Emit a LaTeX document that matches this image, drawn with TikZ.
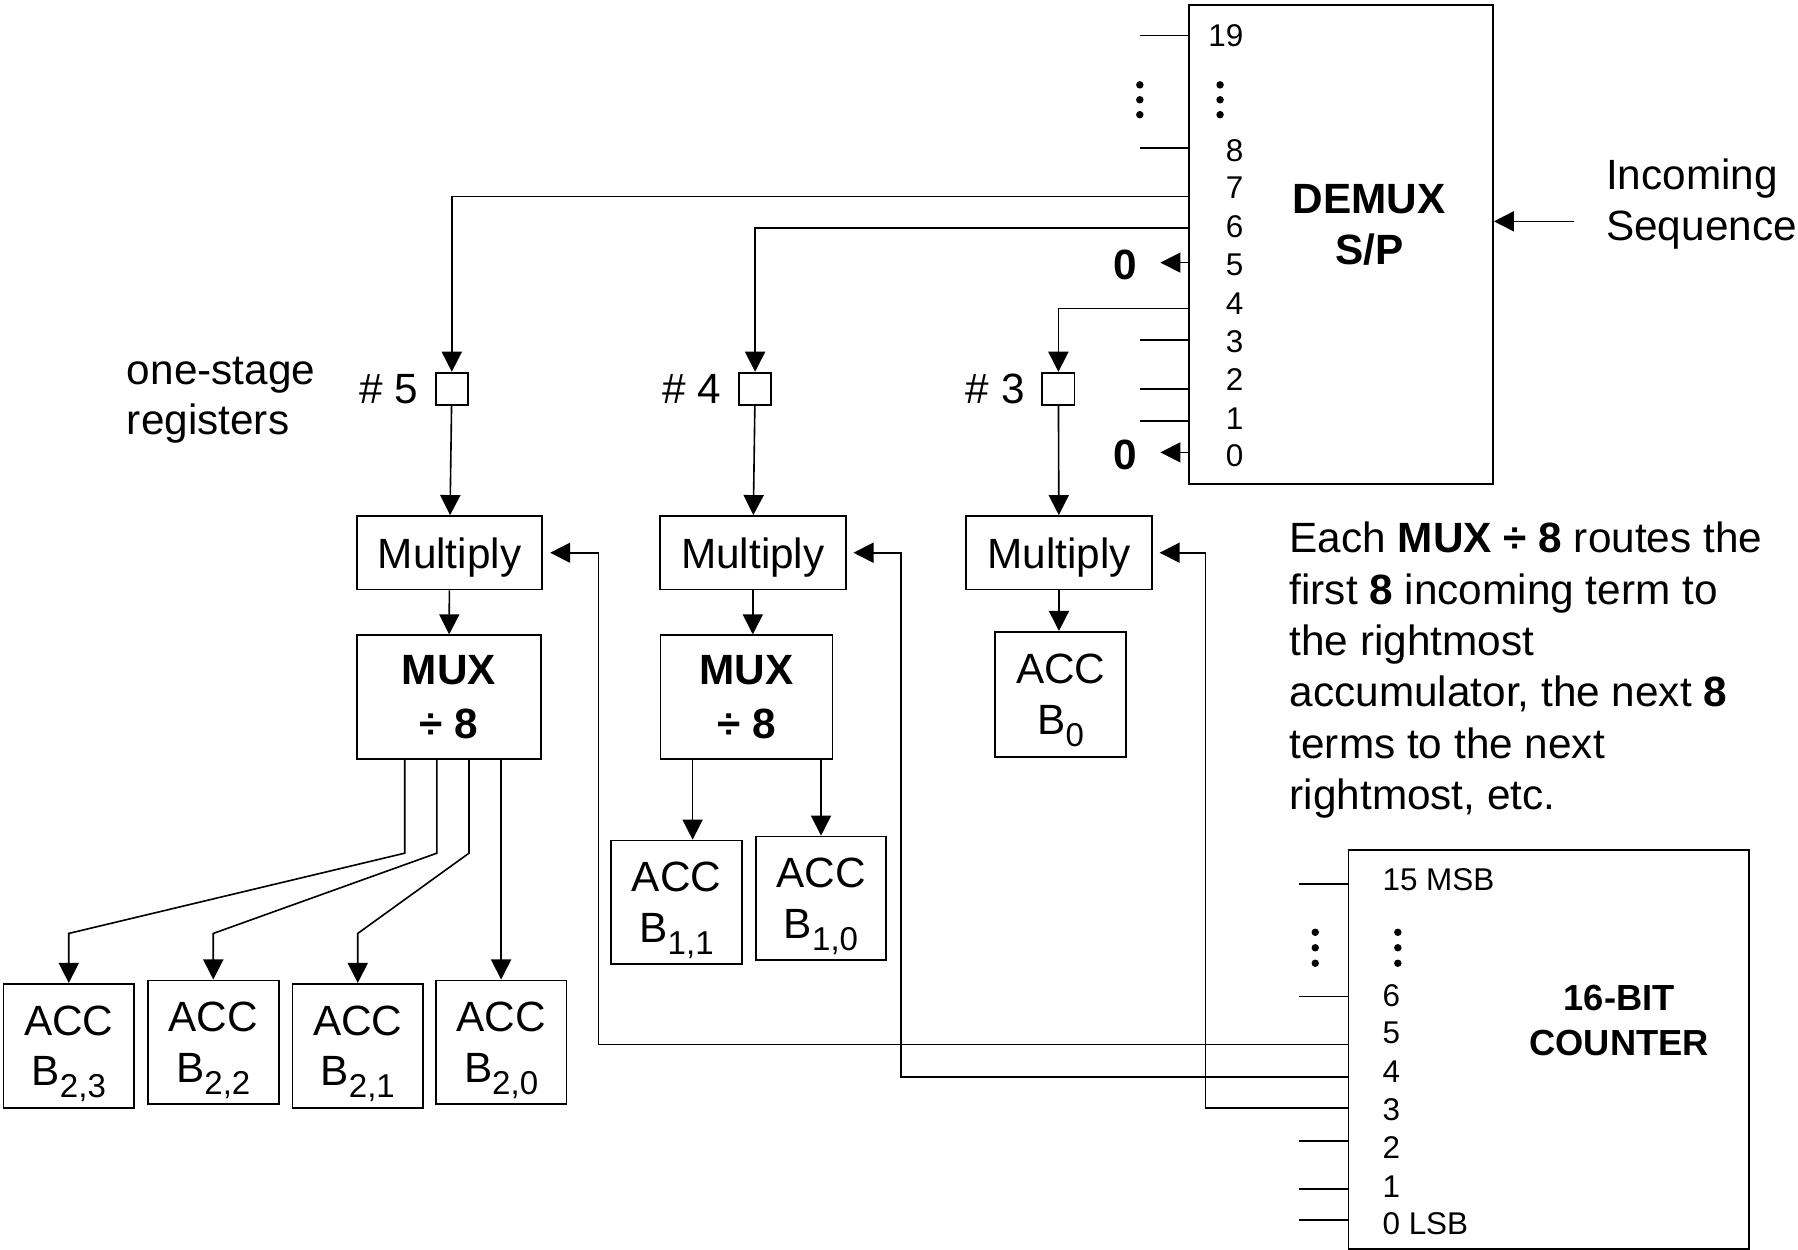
\documentclass[tikz,border=0pt]{standalone}
\usepackage{fontspec}
\setmainfont{Liberation Sans}
\usepackage{tikz}
\usetikzlibrary{arrows.meta,positioning,calc}
\newcommand{\idx}[1]{\raisebox{-2.9pt}[0pt][0pt]{\fontsize{8.2}{9}\selectfont #1}}

\begin{document}
\begin{tikzpicture}[x=1cm,y=1cm,
  >={Triangle[length=1.75mm,width=1.75mm]},
  every node/.style={font=\fontsize{10.5}{12.6}\selectfont},
  blk/.style={draw,line width=0.45pt,inner sep=0pt,align=center},
  mult/.style={blk,minimum width=1.62cm,minimum height=0.64cm,text depth=0pt},
  mux/.style={blk,minimum height=1.08cm,font=\fontsize{10.5}{13.2}\selectfont\bfseries},
  acc/.style={blk,minimum width=1.14cm,minimum height=1.08cm},
  reg/.style={draw,line width=0.45pt,minimum size=0.28cm,inner sep=0pt},
  lbl/.style={inner sep=0pt},
  pin/.style={font=\fontsize{7.8}{9}\selectfont,inner sep=0pt},
  bigb/.style={font=\fontsize{10.5}{12.8}\selectfont\bfseries,inner sep=0pt},
  ctrb/.style={font=\fontsize{9}{11.3}\selectfont\bfseries,inner sep=0pt},
  dot/.style={circle,fill,inner sep=0pt,minimum size=0.065cm}]
\useasboundingbox (0,0) rectangle (15.68,-10.90);

\node[blk,minimum width=2.65cm,minimum height=4.18cm] (demux) at (11.695,-2.13) {};
\node[bigb,align=center] (demuxtxt) at (11.94,-1.96) {DEMUX\\S/P};
\foreach \n/\y in {19/0.31,8/1.31,7/1.64,6/1.98,5/2.31,4/2.65,3/2.98,2/3.31,1/3.65,0/3.97}
  \node[pin,anchor=east] (d\n) at (10.85,-\y) {\n};
\foreach \y in {0.31,1.29,2.965,3.39,3.67}
  \draw (demux.west |- 0,-\y) -- ++(-0.42,0);
\foreach \y in {0.74,0.87,1.00} {
  \node[dot] at (9.94,-\y) {};
  \node[dot] at (10.64,-\y) {};
}
\node[bigb] (z5) at (9.81,-2.31) {0};
\node[bigb] (z0) at (9.81,-3.97) {0};
\draw[->,shorten >=0.2cm] (demux.west |- 0,-2.29) -- (z5.east |- 0,-2.29);
\draw[->,shorten >=0.2cm] (demux.west |- 0,-3.945) -- (z0.east |- 0,-3.945);

\node[lbl,anchor=west,align=left] (inc) at (14.00,-1.78) {Incoming\\Sequence};
\coordinate (src) at (13.73,-1.93);
\draw[->] (src) -- (src -| demux.east);

\node[lbl,anchor=west,align=left] (onestage) at (1.10,-3.49) {one-stage\\registers};
\node[reg] (r5) at (3.94,-3.39) {};
\node[reg] (r4) at (6.585,-3.39) {};
\node[reg] (r3) at (9.23,-3.39) {};
\node[lbl,left=0.14cm of r5] (l5) {\# 5};
\node[lbl,left=0.14cm of r4] (l4) {\# 4};
\node[lbl,left=0.14cm of r3] (l3) {\# 3};
\draw[->] (demux.west |- 0,-1.715) -| (r5.north);
\draw[->] (demux.west |- 0,-1.99) -| (r4.north);
\draw[->] (demux.west |- 0,-2.69) -| (r3.north);

\node[mult] (m5) at (3.92,-4.82) {Multiply};
\node[mult] (m4) at (6.565,-4.82) {Multiply};
\node[mult] (m3) at (9.235,-4.82) {Multiply};
\draw[->] (r5) -- (m5);
\draw[->] (r4) -- (m4);
\draw[->] (r3) -- (m3);

\node[mux,minimum width=1.61cm] (mux5) at (3.915,-6.08) {MUX\\÷ 8};
\node[mux,minimum width=1.50cm] (mux4) at (6.51,-6.08) {MUX\\÷ 8};
\node[acc,minimum height=1.09cm] (b0) at (9.25,-6.055) {ACC\\B\idx{0}};
\draw[->] (m5) -- (mux5);
\draw[->] (m4) -- (m4 |- mux4.north);
\draw[->] (m3) -- (m3 |- b0.north);

\node[acc] (b11) at (5.90,-7.87) {ACC\\B\idx{1,1}};
\node[acc] (b10) at (7.16,-7.835) {ACC\\B\idx{1,0}};
\draw[->] (6.04,0 |- mux4.south) -- (6.04,0 |- b11.north);
\draw[->] (7.16,0 |- mux4.south) -- (b10.north);

\node[acc] (b23) at (0.60,-9.12) {ACC\\B\idx{2,3}};
\node[acc] (b22) at (1.86,-9.09) {ACC\\B\idx{2,2}};
\node[acc] (b21) at (3.12,-9.12) {ACC\\B\idx{2,1}};
\node[acc] (b20) at (4.37,-9.09) {ACC\\B\idx{2,0}};
\foreach \x/\b in {3.53/b23,3.81/b22,4.09/b21}
  \draw[->] (\x,0 |- mux5.south) -- (\x,-7.44) -- (\b.north |- 0,-8.14) -- (\b.north);
\draw[->] (4.37,0 |- mux5.south) -- (b20.north);

\node[blk,minimum width=3.49cm,minimum height=3.48cm] (ctr) at (13.505,-9.15) {};
\node[ctrb,align=center] (ctrtxt) at (14.12,-8.90) {16-BIT\\COUNTER};
\foreach \t/\y in {15 MSB/7.67,6/8.68,5/9.01,4/9.35,3/9.68,2/10.01,1/10.35,0 LSB/10.67}
  \node[pin,anchor=west] at (12.05,-\y) {\t};
\foreach \y in {7.71,8.69,9.95,10.37,10.64}
  \draw (ctr.west |- 0,-\y) -- ++(-0.42,0);
\foreach \y in {8.13,8.265,8.40} {
  \node[dot] at (11.47,-\y) {};
  \node[dot] at (12.19,-\y) {};
}
\draw[->,shorten >=0.06cm] (ctr.west |- 0,-9.11) -| ([xshift=0.48cm]m5.east) -- (m5.east);
\draw[->,shorten >=0.06cm] (ctr.west |- 0,-9.39) -| ([xshift=0.475cm]m4.east) -- (m4.east);
\draw[->,shorten >=0.06cm] (ctr.west |- 0,-9.66) -| ([xshift=0.46cm]m3.east) -- (m3.east);

\node[lbl,anchor=base west,align=left,font=\fontsize{10.5}{12.75}\selectfont] (note) at (11.24,-7.06) {Each \textbf{MUX ÷ 8} routes the\\first \textbf{8} incoming term to\\the rightmost\\accumulator, the next \textbf{8}\\terms to the next\\rightmost, etc.};
\end{tikzpicture}
\end{document}
